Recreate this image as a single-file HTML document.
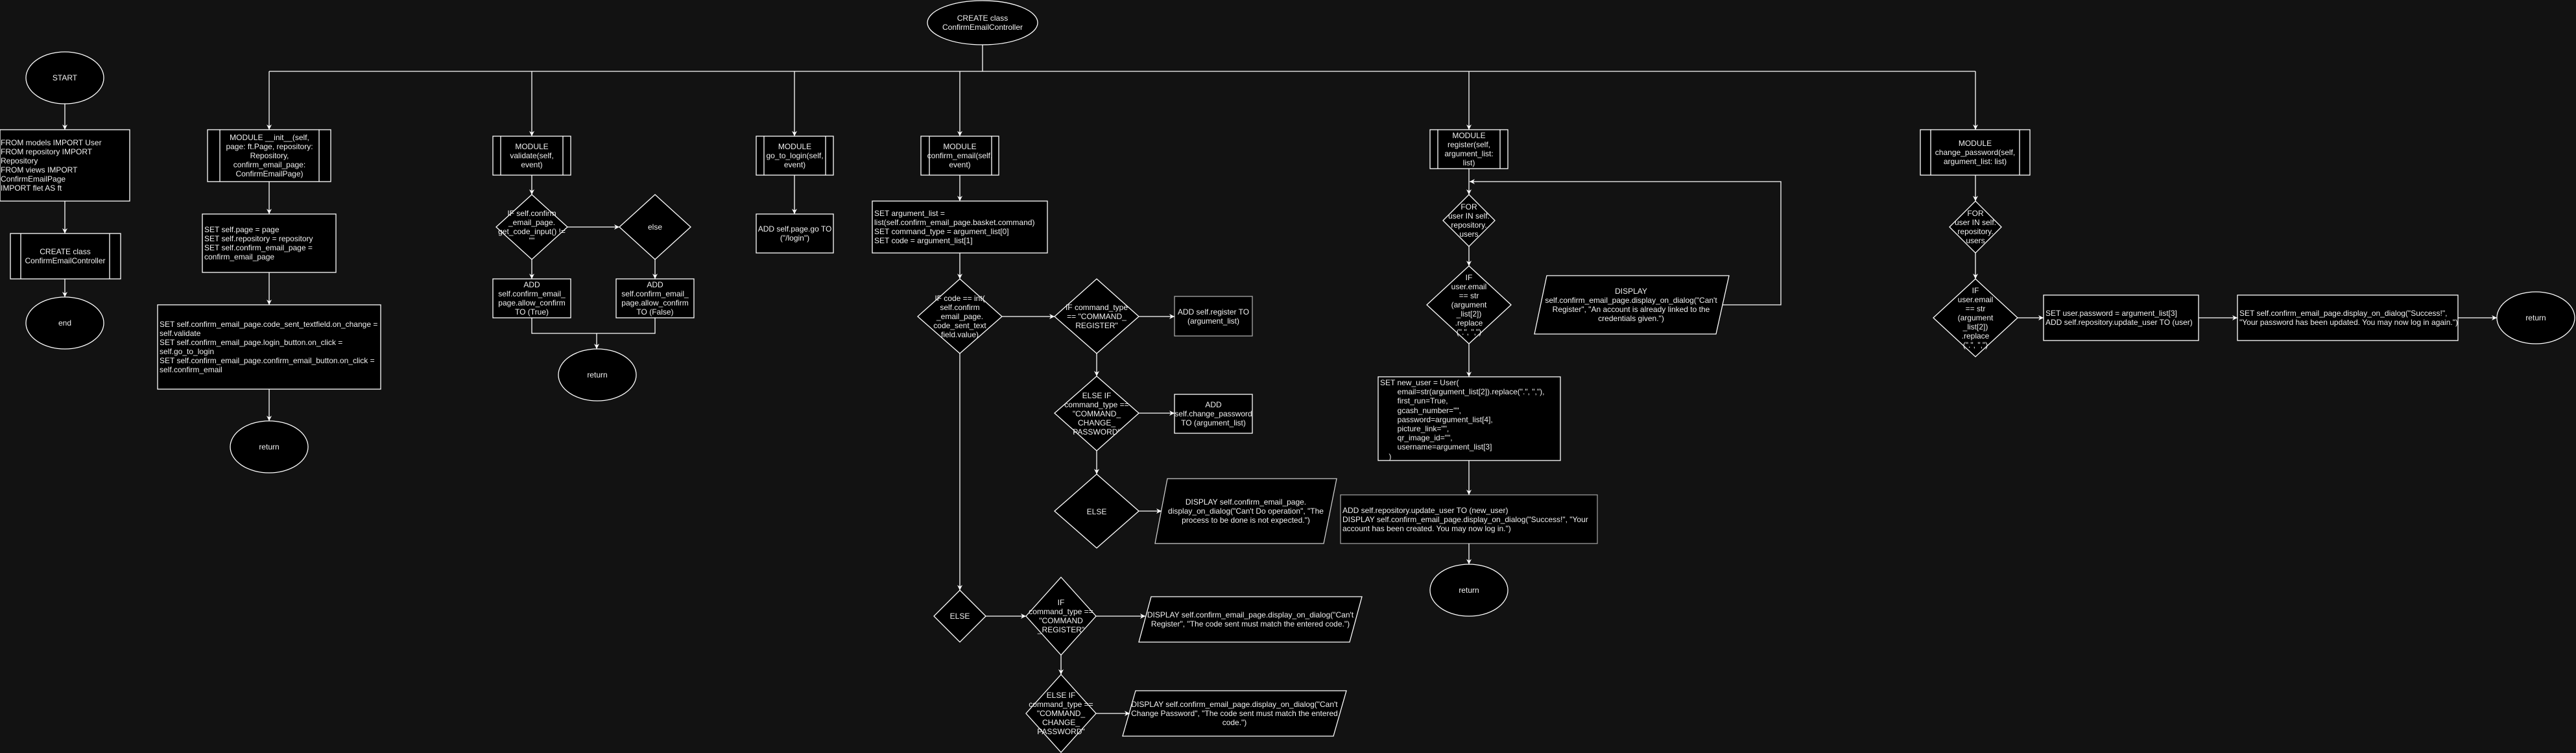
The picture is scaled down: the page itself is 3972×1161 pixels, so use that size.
<!DOCTYPE html>
<html><head><meta charset="utf-8"><style>
html,body{margin:0;padding:0;background:#121212;}
#c{position:relative;width:3972px;height:1161px;background:#121212;overflow:hidden;font-family:"Liberation Sans",Arial,sans-serif;font-size:12px;line-height:14px;color:#f0f0f0;}
svg{position:absolute;left:0;top:0;}
.t{position:absolute;display:flex;align-items:center;justify-content:center;text-align:center;box-sizing:border-box;}
.l{justify-content:flex-start;text-align:left;padding-left:3px;}
</style></head><body><div id="c">
<svg width="3972" height="1161" viewBox="0 0 3972 1161">
<defs><marker id="a" markerWidth="10" markerHeight="10" refX="9" refY="5" orient="auto" markerUnits="userSpaceOnUse"><path d="M1,1 L9,5 L1,9 L3.5,5 Z" fill="#fff"/></marker></defs>
<g fill="#000" stroke="#fff" stroke-width="1.3">
<ellipse cx="100" cy="120" rx="60" ry="40"/>
<rect x="0" y="200" width="200" height="110"/>
<rect x="16" y="360" width="170" height="70"/><line x1="32" y1="360" x2="32" y2="430"/><line x1="169" y1="360" x2="169" y2="430"/>
<ellipse cx="100" cy="498" rx="60" ry="40"/>
<ellipse cx="1515" cy="35" rx="85" ry="34"/>
<rect x="320" y="200" width="190" height="80"/><line x1="339" y1="200" x2="339" y2="280"/><line x1="492" y1="200" x2="492" y2="280"/>
<rect x="312" y="330" width="206" height="90"/>
<rect x="243" y="470" width="344" height="130"/>
<ellipse cx="415" cy="689" rx="60" ry="40"/>
<rect x="760" y="210" width="120" height="60"/><line x1="772" y1="210" x2="772" y2="270"/><line x1="868" y1="210" x2="868" y2="270"/>
<polygon points="820,300 875,350 820,400 765,350"/>
<polygon points="1010,300 1065,350 1010,400 955,350"/>
<rect x="760" y="430" width="120" height="60"/>
<rect x="950" y="430" width="120" height="60"/>
<ellipse cx="921" cy="578" rx="60" ry="40"/>
<rect x="1166" y="210" width="119" height="60"/><line x1="1178" y1="210" x2="1178" y2="270"/><line x1="1273" y1="210" x2="1273" y2="270"/>
<rect x="1166" y="330" width="119" height="60"/>
<rect x="1420" y="210" width="120" height="60"/><line x1="1433" y1="210" x2="1433" y2="270"/><line x1="1529" y1="210" x2="1529" y2="270"/>
<rect x="1345" y="310" width="270" height="80"/>
<polygon points="1480,430 1545,488 1480,545 1415,488"/>
<polygon points="1691,430 1756,488 1691,545 1626,488"/>
<rect x="1811" y="457" width="120" height="61" stroke="#aaa"/>
<polygon points="1691,580 1756,637 1691,695 1626,637"/>
<rect x="1811" y="608" width="120" height="60"/>
<polygon points="1691,731 1756,788 1691,845 1626,788"/>
<polygon points="1800,738 2061,738 2041,838 1781,838" stroke="#ccc"/>
<polygon points="1480,910 1520,950 1480,990 1440,950"/>
<polygon points="1636,890 1690,950 1636,1010 1582,950"/>
<polygon points="1775,920 2100,920 2081,990 1756,990"/>
<polygon points="1636,1040 1690,1100 1636,1160 1582,1100"/>
<polygon points="1751,1065 2076,1065 2056,1135 1731,1135"/>
<rect x="2205" y="200" width="120" height="60"/><line x1="2217" y1="200" x2="2217" y2="260"/><line x1="2313" y1="200" x2="2313" y2="260"/>
<polygon points="2265,300 2305,340 2265,380 2225,340"/>
<polygon points="2265,410 2330,470 2265,530 2200,470"/>
<polygon points="2385,425 2666,425 2646,515 2366,515"/>
<rect x="2125" y="581" width="281" height="129"/>
<rect x="2067" y="763" width="396" height="75" stroke="#999"/>
<ellipse cx="2265" cy="910" rx="60" ry="40"/>
<rect x="2961" y="200" width="169" height="70"/><line x1="2977" y1="200" x2="2977" y2="270"/><line x1="3114" y1="200" x2="3114" y2="270"/>
<polygon points="3046,310 3086,350 3046,390 3006,350"/>
<polygon points="3046,430 3111,490 3046,550 2981,490"/>
<rect x="3151" y="455" width="239" height="70"/>
<rect x="3450" y="455" width="340" height="70"/>
<ellipse cx="3910" cy="490" rx="60" ry="40"/>
</g>
<g fill="none" stroke="#fff" stroke-width="1.3">
<line x1="100" y1="160" x2="100" y2="200" marker-end="url(#a)"/>
<line x1="100" y1="310" x2="100" y2="360" marker-end="url(#a)"/>
<line x1="100" y1="430" x2="100" y2="458" marker-end="url(#a)"/>
<line x1="1515" y1="69" x2="1515" y2="110"/>
<line x1="415" y1="110" x2="3046" y2="110"/>
<line x1="415" y1="110" x2="415" y2="200" marker-end="url(#a)"/>
<line x1="820" y1="110" x2="820" y2="210" marker-end="url(#a)"/>
<line x1="1225" y1="110" x2="1225" y2="210" marker-end="url(#a)"/>
<line x1="1480" y1="110" x2="1480" y2="210" marker-end="url(#a)"/>
<line x1="2265" y1="110" x2="2265" y2="200" marker-end="url(#a)"/>
<line x1="3046" y1="110" x2="3046" y2="200" marker-end="url(#a)"/>
<line x1="415" y1="280" x2="415" y2="330" marker-end="url(#a)"/>
<line x1="415" y1="420" x2="415" y2="470" marker-end="url(#a)"/>
<line x1="415" y1="600" x2="415" y2="649" marker-end="url(#a)"/>
<line x1="820" y1="270" x2="820" y2="300" marker-end="url(#a)"/>
<line x1="875" y1="350" x2="955" y2="350" marker-end="url(#a)"/>
<line x1="820" y1="400" x2="820" y2="430" marker-end="url(#a)"/>
<line x1="1010" y1="400" x2="1010" y2="430" marker-end="url(#a)"/>
<polyline points="820,490 820,514 1010,514 1010,490"/>
<line x1="920" y1="514" x2="920" y2="538" marker-end="url(#a)"/>
<line x1="1225" y1="270" x2="1225" y2="330" marker-end="url(#a)"/>
<line x1="1480" y1="270" x2="1480" y2="310" marker-end="url(#a)"/>
<line x1="1480" y1="390" x2="1480" y2="430" marker-end="url(#a)"/>
<line x1="1545" y1="488" x2="1626" y2="488" marker-end="url(#a)"/>
<line x1="1756" y1="488" x2="1811" y2="488" marker-end="url(#a)"/>
<line x1="1691" y1="545" x2="1691" y2="580" marker-end="url(#a)"/>
<line x1="1756" y1="637" x2="1811" y2="637" marker-end="url(#a)"/>
<line x1="1691" y1="695" x2="1691" y2="731" marker-end="url(#a)"/>
<line x1="1756" y1="788" x2="1791" y2="788" marker-end="url(#a)"/>
<line x1="1480" y1="545" x2="1480" y2="910" marker-end="url(#a)"/>
<line x1="1520" y1="950" x2="1582" y2="950" marker-end="url(#a)"/>
<line x1="1690" y1="950" x2="1766" y2="950" marker-end="url(#a)"/>
<line x1="1636" y1="1010" x2="1636" y2="1040" marker-end="url(#a)"/>
<line x1="1690" y1="1100" x2="1742" y2="1100" marker-end="url(#a)"/>
<line x1="2265" y1="260" x2="2265" y2="300" marker-end="url(#a)"/>
<line x1="2265" y1="380" x2="2265" y2="410" marker-end="url(#a)"/>
<line x1="2265" y1="530" x2="2265" y2="581" marker-end="url(#a)"/>
<line x1="2265" y1="710" x2="2265" y2="763" marker-end="url(#a)"/>
<line x1="2265" y1="838" x2="2265" y2="870" marker-end="url(#a)"/>
<polyline points="2656,470 2746,470 2746,280 2266,280" marker-end="url(#a)"/>
<line x1="3046" y1="270" x2="3046" y2="310" marker-end="url(#a)"/>
<line x1="3046" y1="390" x2="3046" y2="430" marker-end="url(#a)"/>
<line x1="3111" y1="490" x2="3151" y2="490" marker-end="url(#a)"/>
<line x1="3390" y1="490" x2="3450" y2="490" marker-end="url(#a)"/>
<line x1="3790" y1="490" x2="3850" y2="490" marker-end="url(#a)"/>
</g>
</svg>
<div class="t" style="left:40px;top:80px;width:120px;height:80px">START</div>
<div class="t l" style="left:0;top:200px;width:200px;height:110px;padding-left:1px">FROM models IMPORT User<br>FROM repository IMPORT Repository<br>FROM views IMPORT ConfirmEmailPage<br>IMPORT flet AS ft</div>
<div class="t" style="left:32px;top:360px;width:137px;height:70px">CREATE class<br>ConfirmEmailController</div>
<div class="t" style="left:40px;top:458px;width:120px;height:80px">end</div>
<div class="t" style="left:1430px;top:1px;width:170px;height:68px">CREATE class<br>ConfirmEmailController</div>
<div class="t" style="left:339px;top:200px;width:153px;height:80px">MODULE __init__(self, page: ft.Page, repository: Repository, confirm_email_page: ConfirmEmailPage)</div>
<div class="t l" style="left:312px;top:330px;width:206px;height:90px">SET self.page = page<br>SET self.repository = repository<br>SET self.confirm_email_page = confirm_email_page</div>
<div class="t l" style="left:243px;top:470px;width:344px;height:130px">SET self.confirm_email_page.code_sent_textfield.on_change = self.validate<br>SET self.confirm_email_page.login_button.on_click = self.go_to_login<br>SET self.confirm_email_page.confirm_email_button.on_click = self.confirm_email</div>
<div class="t" style="left:355px;top:649px;width:120px;height:80px">return</div>
<div class="t" style="left:772px;top:210px;width:96px;height:60px">MODULE<br>validate(self,<br>event)</div>
<div class="t" style="left:765px;top:300px;width:110px;height:100px">IF self.confirm<br>_email_page.<br>get_code_input() != ""</div>
<div class="t" style="left:955px;top:300px;width:110px;height:100px">else</div>
<div class="t" style="left:760px;top:430px;width:120px;height:60px">ADD<br>self.confirm_email_<br>page.allow_confirm<br>TO (True)</div>
<div class="t" style="left:950px;top:430px;width:120px;height:60px">ADD<br>self.confirm_email_<br>page.allow_confirm<br>TO (False)</div>
<div class="t" style="left:861px;top:538px;width:120px;height:80px">return</div>
<div class="t" style="left:1178px;top:210px;width:95px;height:60px">MODULE<br>go_to_login(self,<br>event)</div>
<div class="t" style="left:1166px;top:330px;width:119px;height:60px">ADD self.page.go TO<br>("/login")</div>
<div class="t" style="left:1420px;top:210px;width:120px;height:60px">MODULE<br>confirm_email(self,<br>event)</div>
<div class="t l" style="left:1345px;top:310px;width:270px;height:80px">SET argument_list = list(self.confirm_email_page.basket.command)<br>SET command_type = argument_list[0]<br>SET code = argument_list[1]</div>
<div class="t" style="left:1415px;top:430px;width:130px;height:115px">IF code == int(<br>self.confirm<br>_email_page.<br>code_sent_text<br>field.value)</div>
<div class="t" style="left:1626px;top:430px;width:130px;height:115px">IF command_type<br>== "COMMAND_<br>REGISTER"</div>
<div class="t" style="left:1811px;top:457px;width:120px;height:61px">ADD self.register TO<br>(argument_list)</div>
<div class="t" style="left:1626px;top:580px;width:130px;height:115px">ELSE IF<br>command_type ==<br>"COMMAND_<br>CHANGE_<br>PASSWORD"</div>
<div class="t" style="left:1811px;top:608px;width:120px;height:60px">ADD<br>self.change_password<br>TO (argument_list)</div>
<div class="t" style="left:1626px;top:731px;width:130px;height:115px">ELSE</div>
<div class="t" style="left:1790px;top:738px;width:262px;height:100px">DISPLAY self.confirm_email_page.<br>display_on_dialog("Can't Do operation", "The process to be done is not expected.")</div>
<div class="t" style="left:1440px;top:910px;width:80px;height:80px">ELSE</div>
<div class="t" style="left:1582px;top:890px;width:108px;height:120px">IF<br>command_type ==<br>"COMMAND<br>_REGISTER"</div>
<div class="t" style="left:1762px;top:920px;width:332px;height:70px">DISPLAY self.confirm_email_page.display_on_dialog("Can't Register", "The code sent must match the entered code.")</div>
<div class="t" style="left:1582px;top:1040px;width:108px;height:120px">ELSE IF<br>command_type ==<br>"COMMAND_<br>CHANGE_<br>PASSWORD"</div>
<div class="t" style="left:1737px;top:1065px;width:333px;height:70px">DISPLAY self.confirm_email_page.display_on_dialog("Can't Change Password", "The code sent must match the entered code.")</div>
<div class="t" style="left:2217px;top:200px;width:96px;height:60px">MODULE<br>register(self,<br>argument_list:<br>list)</div>
<div class="t" style="left:2225px;top:300px;width:80px;height:80px">FOR<br>user IN self.<br>repository.<br>users</div>
<div class="t" style="left:2200px;top:410px;width:130px;height:120px">IF<br>user.email<br>== str<br>(argument<br>_list[2])<br>.replace<br>(".", ",")</div>
<div class="t" style="left:2370px;top:425px;width:290px;height:90px">DISPLAY<br>self.confirm_email_page.display_on_dialog("Can't Register", "An account is already linked to the credentials given.")</div>
<div class="t l" style="left:2125px;top:581px;width:281px;height:129px;align-items:flex-start;padding-top:2px;white-space:pre;line-height:14.2px">SET new_user = User(
        email=str(argument_list[2]).replace(".", ","),
        first_run=True,
        gcash_number="",
        password=argument_list[4],
        picture_link="",
        qr_image_id="",
        username=argument_list[3]
    )</div>
<div class="t l" style="left:2067px;top:763px;width:396px;height:75px">ADD self.repository.update_user TO (new_user)<br>DISPLAY self.confirm_email_page.display_on_dialog("Success!", "Your account has been created. You may now log in.")</div>
<div class="t" style="left:2205px;top:870px;width:120px;height:80px">return</div>
<div class="t" style="left:2977px;top:200px;width:137px;height:70px">MODULE<br>change_password(self,<br>argument_list: list)</div>
<div class="t" style="left:3006px;top:310px;width:80px;height:80px">FOR<br>user IN self.<br>repository.<br>users</div>
<div class="t" style="left:2981px;top:430px;width:130px;height:120px">IF<br>user.email<br>== str<br>(argument<br>_list[2])<br>.replace<br>(".", ",")</div>
<div class="t l" style="left:3151px;top:455px;width:239px;height:70px">SET user.password = argument_list[3]<br>ADD self.repository.update_user TO (user)</div>
<div class="t l" style="left:3450px;top:455px;width:340px;height:70px">SET self.confirm_email_page.display_on_dialog("Success!", "Your password has been updated. You may now log in again.")</div>
<div class="t" style="left:3850px;top:450px;width:120px;height:80px">return</div>
</div></body></html>
